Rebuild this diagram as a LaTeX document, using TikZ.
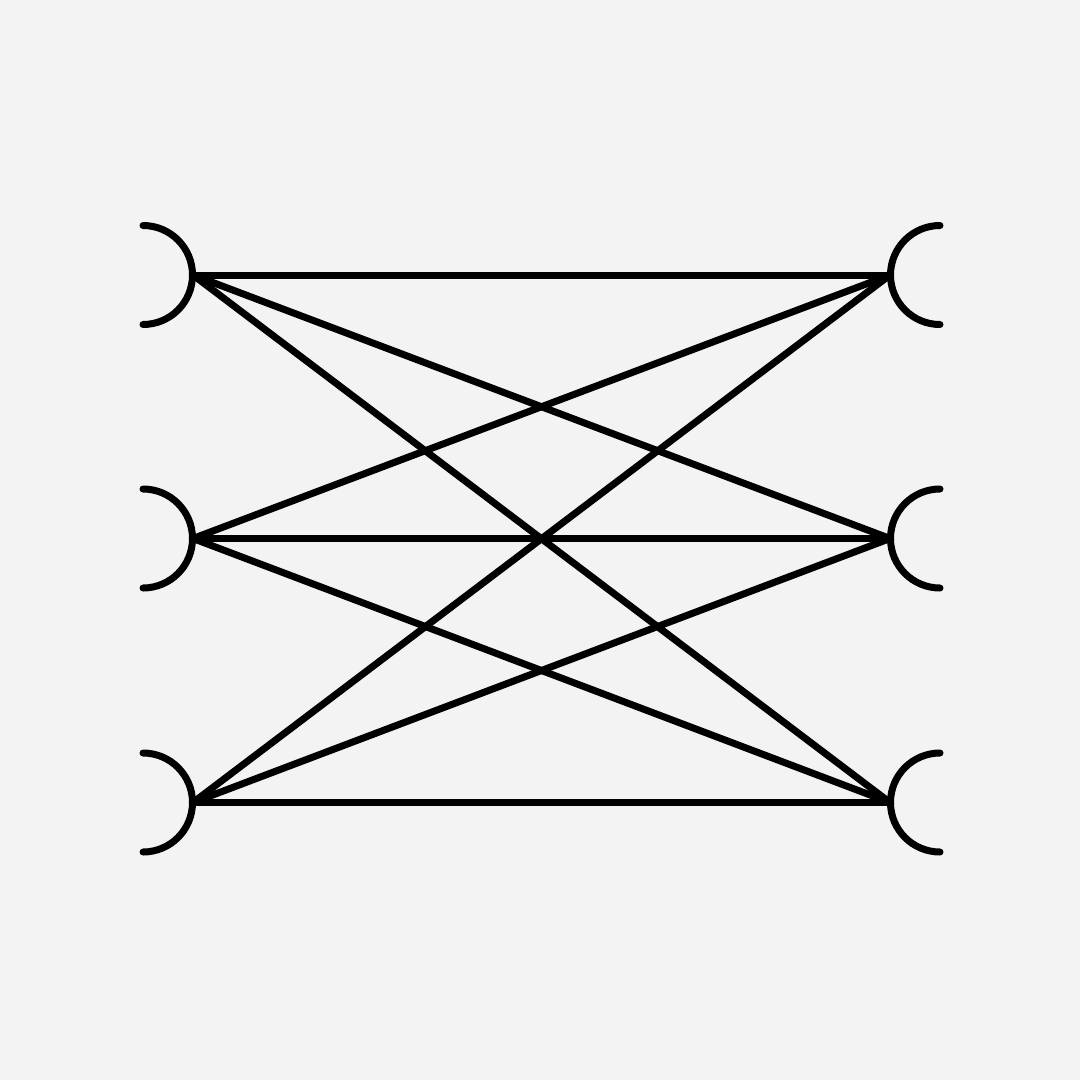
\documentclass[tikz,border=0pt]{standalone}
\definecolor{bg}{HTML}{F3F3F3}
\begin{document}
\begin{tikzpicture}[x=1pt,y=-1pt,
  wire/.style={line width=7pt, black, line cap=round, line join=round},
  cup/.style={line width=7pt, black, line cap=round}]
\fill[bg] (0,0) rectangle (1080,1080);
\useasboundingbox (0,0) rectangle (1080,1080);
\foreach \i/\y in {1/275,2/538.5,3/802.5}{
  \coordinate (L\i) at (193,\y);
  \coordinate (R\i) at (890,\y);
  \draw[cup] (143,\y-49.5) arc[start angle=-90,end angle=90,radius=49.5];
  \draw[cup] (940,\y-49.5) arc[start angle=-90,end angle=-270,radius=49.5];
}
\foreach \a in {1,2,3}{
  \foreach \b in {1,2,3}{
    \draw[wire] (L\a) -- (R\b);
  }
}
\end{tikzpicture}
\end{document}
